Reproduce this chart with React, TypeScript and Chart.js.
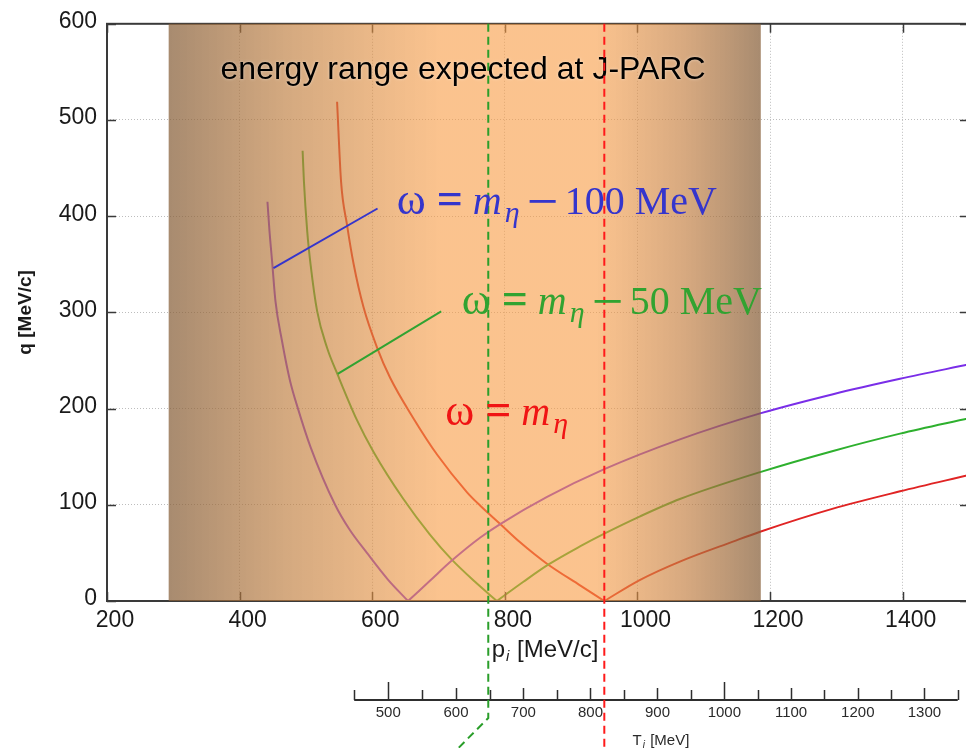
import { useEffect, useRef } from 'react';
import { Chart, registerables } from 'chart.js';

Chart.register(...registerables);

const SANS = "'Liberation Sans', Arial, sans-serif";
const SERIF = "'Liberation Serif', 'Times New Roman', serif";
const PION_MASS = 139.57; // MeV

// Momentum transfer q [MeV/c] against incident momentum p_i [MeV/c].
// Each curve has a low-momentum branch and a high-momentum branch meeting at q = 0.

// ω = m_η − 100 MeV
const minus100LowP = [442, 445, 449, 454, 464, 476, 488, 507, 544, 566, 592, 624, 654];
const minus100LowQ = [415, 385, 353, 312, 270, 229, 200, 160, 100, 74, 50, 22, 0];
const minus100HighP = [654, 687, 720, 763, 793, 863, 950, 1064, 1185, 1295, 1396, 1500];
const minus100HighQ = [0, 21, 42, 66, 80, 108, 137, 168, 195, 215, 231, 246];

// ω = m_η − 50 MeV
const minus50LowP = [495, 497, 502, 507, 517, 532, 548, 577, 602, 647, 687, 720, 755, 788];
const minus50LowQ = [468, 436, 384, 350, 301, 263, 235, 188, 155, 106, 69, 43, 20, 0];
const minus50HighP = [788, 828, 866, 914, 950, 1004, 1064, 1185, 1295, 1396, 1500];
const minus50HighQ = [0, 20, 38, 57, 70, 88, 106, 134, 156, 174, 190];

// ω = m_η
const etaLowP = [547, 553, 562, 572, 587, 607, 627, 662, 698, 743, 763, 793, 823, 863, 914, 950];
const etaLowQ = [519, 436, 391, 350, 305, 264, 232, 190, 152, 113, 99, 80, 61, 39, 16, 0];
const etaHighP = [950, 1004, 1064, 1145, 1185, 1295, 1396, 1500];
const etaHighQ = [0, 22, 41, 62, 72, 96, 114, 131];

// axes
const momentumTicks = [200, 400, 600, 800, 1000, 1200, 1400];
const transferTicks = [0, 100, 200, 300, 400, 500, 600];
const kineticTicks = [450, 500, 550, 600, 650, 700, 750, 800, 850, 900, 950, 1000, 1050, 1100, 1150, 1200, 1250, 1300, 1350];
const kineticLabels = [500, 600, 700, 800, 900, 1000, 1100, 1200, 1300];

// momentum window reachable at J-PARC, and the two marked momenta
const jparcRange = [293, 1186];
const greenMarkP = 775;
const redMarkP = 950;

const COLORS = {
  minus100: '#7a2ee8',
  minus50: '#2eb02e',
  eta: '#e02424',
  blueText: '#3535cc',
  greenText: '#31a331',
  redText: '#f01414',
};

const zip = (xs: number[], ys: number[]) => xs.map((x, i) => ({ x, y: ys[i] }));

const line = (data: { x: number; y: number }[], color: string) => ({
  data,
  borderColor: color,
  borderWidth: 2,
  pointRadius: 0,
  fill: false,
  cubicInterpolationMode: 'monotone' as const,
});

const kineticToMomentum = (t: number) => Math.sqrt((t + PION_MASS) ** 2 - PION_MASS ** 2);

type Piece = { text: string; font: string; dx: number; dy?: number };

const omegaLabel = (tail: string | null): Piece[] => {
  const pieces: Piece[] = [
    { text: 'ω', font: `44px ${SERIF}`, dx: 0 },
    { text: '=', font: `bold 46px ${SERIF}`, dx: 40 },
    { text: 'm', font: `italic 40px ${SERIF}`, dx: 76 },
    { text: 'η', font: `italic 30px ${SERIF}`, dx: 108, dy: 8 },
  ];
  if (tail) {
    pieces.push({ text: '−', font: `56px ${SERIF}`, dx: 130, dy: 6 });
    pieces.push({ text: tail, font: `40px ${SERIF}`, dx: 168 });
  }
  return pieces;
};

const drawPieces = (ctx: CanvasRenderingContext2D, pieces: Piece[], x: number, y: number, color: string) => {
  ctx.fillStyle = color;
  ctx.textAlign = 'left';
  ctx.textBaseline = 'alphabetic';
  for (const p of pieces) {
    ctx.font = p.font;
    ctx.fillText(p.text, x + p.dx, y + (p.dy ?? 0));
  }
};

const decorPlugin = {
  id: 'decor',
  afterDatasetsDraw(chart: any) {
    const { ctx, chartArea: a } = chart;
    const xs = chart.scales.x;
    const ys = chart.scales.y;
    ctx.save();

    // frame with inward tick marks on all four sides
    ctx.strokeStyle = '#3a3a3a';
    ctx.lineWidth = 2;
    ctx.strokeRect(a.left, a.top, a.right - a.left, a.bottom - a.top);
    ctx.lineWidth = 1.5;
    ctx.beginPath();
    for (const v of momentumTicks) {
      const px = Math.round(xs.getPixelForValue(v)) + 0.5;
      ctx.moveTo(px, a.bottom);
      ctx.lineTo(px, a.bottom - 9);
      ctx.moveTo(px, a.top);
      ctx.lineTo(px, a.top + 9);
    }
    for (const v of transferTicks) {
      const py = Math.round(ys.getPixelForValue(v)) + 0.5;
      ctx.moveTo(a.left, py);
      ctx.lineTo(a.left + 9, py);
      ctx.moveTo(a.right, py);
      ctx.lineTo(a.right - 9, py);
    }
    ctx.stroke();

    // translucent band over the J-PARC momentum window
    const x0 = xs.getPixelForValue(jparcRange[0]);
    const x1 = xs.getPixelForValue(jparcRange[1]);
    const g = ctx.createLinearGradient(x0, 0, x1, 0);
    g.addColorStop(0, 'rgba(134, 94, 56, 0.72)');
    g.addColorStop(0.2, 'rgba(190, 125, 62, 0.66)');
    g.addColorStop(0.46, 'rgba(248, 155, 67, 0.6)');
    g.addColorStop(0.72, 'rgba(248, 155, 67, 0.6)');
    g.addColorStop(0.87, 'rgba(195, 125, 62, 0.66)');
    g.addColorStop(1, 'rgba(134, 94, 56, 0.72)');
    ctx.fillStyle = g;
    ctx.fillRect(x0, a.top, x1 - x0, a.bottom - a.top);
    ctx.restore();
  },
  afterDraw(chart: any) {
    const { ctx, chartArea: a, height } = chart;
    const xs = chart.scales.x;
    const ys = chart.scales.y;
    const X = (v: number) => xs.getPixelForValue(v);
    const Y = (v: number) => ys.getPixelForValue(v);
    ctx.save();

    // secondary axis: pion kinetic energy T_i
    const tY = 700;
    ctx.strokeStyle = '#2e2e2e';
    ctx.lineWidth = 2;
    const tx0 = X(kineticToMomentum(kineticTicks[0]));
    const tx1 = X(kineticToMomentum(kineticTicks[kineticTicks.length - 1]));
    ctx.beginPath();
    ctx.moveTo(tx0, tY);
    ctx.lineTo(tx1, tY);
    ctx.stroke();
    ctx.lineWidth = 1.5;
    ctx.beginPath();
    for (const t of kineticTicks) {
      const px = Math.round(X(kineticToMomentum(t))) + 0.5;
      const len = t % 500 === 0 ? 18 : t % 100 === 0 ? 12 : 10;
      ctx.moveTo(px, tY);
      ctx.lineTo(px, tY - len);
    }
    ctx.stroke();
    ctx.fillStyle = '#2a2a2a';
    ctx.font = `15px ${SANS}`;
    ctx.textAlign = 'center';
    ctx.textBaseline = 'middle';
    for (const t of kineticLabels) {
      ctx.fillText(String(t), X(kineticToMomentum(t)), tY + 13);
    }
    // T_i [MeV]
    {
      const cx = (tx0 + tx1) / 2 + 5;
      ctx.textAlign = 'left';
      ctx.textBaseline = 'alphabetic';
      ctx.font = `15px ${SANS}`;
      const wT = ctx.measureText('T').width;
      ctx.font = `italic 10px ${SANS}`;
      const wi = ctx.measureText('i').width + 2;
      ctx.font = `15px ${SANS}`;
      const wRest = ctx.measureText(' [MeV]').width;
      let x = cx - (wT + wi + wRest) / 2;
      const by = 745;
      ctx.fillText('T', x, by);
      x += wT;
      ctx.font = `italic 10px ${SANS}`;
      ctx.fillText('i', x + 1, by + 3);
      x += wi;
      ctx.font = `15px ${SANS}`;
      ctx.fillText(' [MeV]', x, by);
    }

    // p_i [MeV/c]
    {
      ctx.fillStyle = '#1a1a1a';
      ctx.textAlign = 'left';
      ctx.textBaseline = 'alphabetic';
      ctx.font = `24px ${SANS}`;
      const wp = ctx.measureText('p').width;
      ctx.font = `italic 15px ${SANS}`;
      const wi = ctx.measureText('i').width + 2;
      ctx.font = `24px ${SANS}`;
      const wRest = ctx.measureText(' [MeV/c]').width;
      const cx = (a.left + a.right) / 2 + 7;
      let x = cx - (wp + wi + wRest) / 2;
      const by = 657;
      ctx.fillText('p', x, by);
      x += wp;
      ctx.font = `italic 15px ${SANS}`;
      ctx.fillText('i', x + 1, by + 4);
      x += wi;
      ctx.font = `24px ${SANS}`;
      ctx.fillText(' [MeV/c]', x, by);
    }

    // q [MeV/c]
    ctx.save();
    ctx.translate(26, (a.top + a.bottom) / 2);
    ctx.rotate(-Math.PI / 2);
    ctx.font = `bold 19px ${SANS}`;
    ctx.fillStyle = '#1a1a1a';
    ctx.textAlign = 'center';
    ctx.textBaseline = 'middle';
    ctx.fillText('q [MeV/c]', 0, 0);
    ctx.restore();

    // band caption
    ctx.font = `32px ${SANS}`;
    ctx.fillStyle = '#000';
    ctx.textAlign = 'center';
    ctx.textBaseline = 'alphabetic';
    ctx.shadowColor = 'rgba(255,255,255,0.5)';
    ctx.shadowBlur = 3;
    ctx.fillText('energy range expected at J-PARC', X(737), Y(543));
    ctx.shadowColor = 'transparent';
    ctx.shadowBlur = 0;

    // dashed markers at the two momenta
    ctx.lineWidth = 2;
    ctx.setLineDash([8, 5]);
    ctx.strokeStyle = '#ff1a1a';
    ctx.beginPath();
    ctx.moveTo(X(redMarkP), a.top);
    ctx.lineTo(X(redMarkP), height);
    ctx.stroke();
    ctx.strokeStyle = '#2a9e2a';
    ctx.beginPath();
    ctx.moveTo(X(greenMarkP), a.top);
    ctx.lineTo(X(greenMarkP), tY + 18);
    ctx.lineTo(X(730), height);
    ctx.stroke();
    ctx.setLineDash([]);

    // curve labels with leader lines
    ctx.lineWidth = 2;
    ctx.strokeStyle = COLORS.blueText;
    ctx.beginPath();
    ctx.moveTo(X(451), Y(346));
    ctx.lineTo(X(608), Y(408));
    ctx.stroke();
    ctx.strokeStyle = COLORS.greenText;
    ctx.beginPath();
    ctx.moveTo(X(548), Y(236));
    ctx.lineTo(X(704), Y(301));
    ctx.stroke();

    drawPieces(ctx, omegaLabel('100 MeV'), X(637), Y(402), COLORS.blueText);
    drawPieces(ctx, omegaLabel('50 MeV'), X(735), Y(298), COLORS.greenText);
    drawPieces(ctx, omegaLabel(null), X(710), Y(183), COLORS.redText);

    ctx.restore();
  },
};

export default function App() {
  const ref = useRef<HTMLCanvasElement>(null);

  useEffect(() => {
    const canvas = ref.current;
    if (!canvas) return;
    const chart = new Chart(canvas, {
      type: 'line',
      data: {
        datasets: [
          line(zip(minus100LowP, minus100LowQ), COLORS.minus100),
          line(zip(minus100HighP, minus100HighQ), COLORS.minus100),
          line(zip(minus50LowP, minus50LowQ), COLORS.minus50),
          line(zip(minus50HighP, minus50HighQ), COLORS.minus50),
          line(zip(etaLowP, etaLowQ), COLORS.eta),
          line(zip(etaHighP, etaHighQ), COLORS.eta),
        ],
      },
      options: {
        responsive: false,
        animation: false,
        events: [],
        layout: { padding: { top: 22, right: 3, left: 0, bottom: 0 } },
        plugins: { legend: { display: false }, tooltip: { enabled: false } },
        scales: {
          x: {
            type: 'linear',
            min: 200,
            max: 1500,
            afterFit: (s: any) => {
              s.height = 147;
            },
            afterBuildTicks: (s: any) => {
              s.ticks = momentumTicks.map((value) => ({ value }));
            },
            grid: { color: '#bdbdbd', lineWidth: 1, drawTicks: false },
            border: { display: false, dash: [1, 2] },
            ticks: {
              font: { family: SANS, size: 23 },
              color: '#1a1a1a',
              padding: 6,
              labelOffset: 8,
              maxRotation: 0,
              autoSkip: false,
              callback: (v: any) => String(v),
            },
          },
          y: {
            type: 'linear',
            min: 0,
            max: 600,
            afterFit: (s: any) => {
              s.width = 107;
            },
            afterBuildTicks: (s: any) => {
              s.ticks = transferTicks.map((value) => ({ value }));
            },
            grid: { color: '#bdbdbd', lineWidth: 1, drawTicks: false },
            border: { display: false, dash: [1, 2] },
            ticks: {
              font: { family: SANS, size: 23 },
              color: '#1a1a1a',
              padding: 10,
              labelOffset: -2,
              autoSkip: false,
              callback: (v: any) => String(v),
            },
          },
        },
      },
      plugins: [decorPlugin],
    });
    return () => chart.destroy();
  }, []);

  return (
    <div
      style={{
        position: 'fixed',
        left: 0,
        top: 0,
        width: 966,
        height: 748,
        overflow: 'hidden',
        background: '#fff',
      }}
    >
      <canvas ref={ref} width={972} height={748} />
    </div>
  );
}
